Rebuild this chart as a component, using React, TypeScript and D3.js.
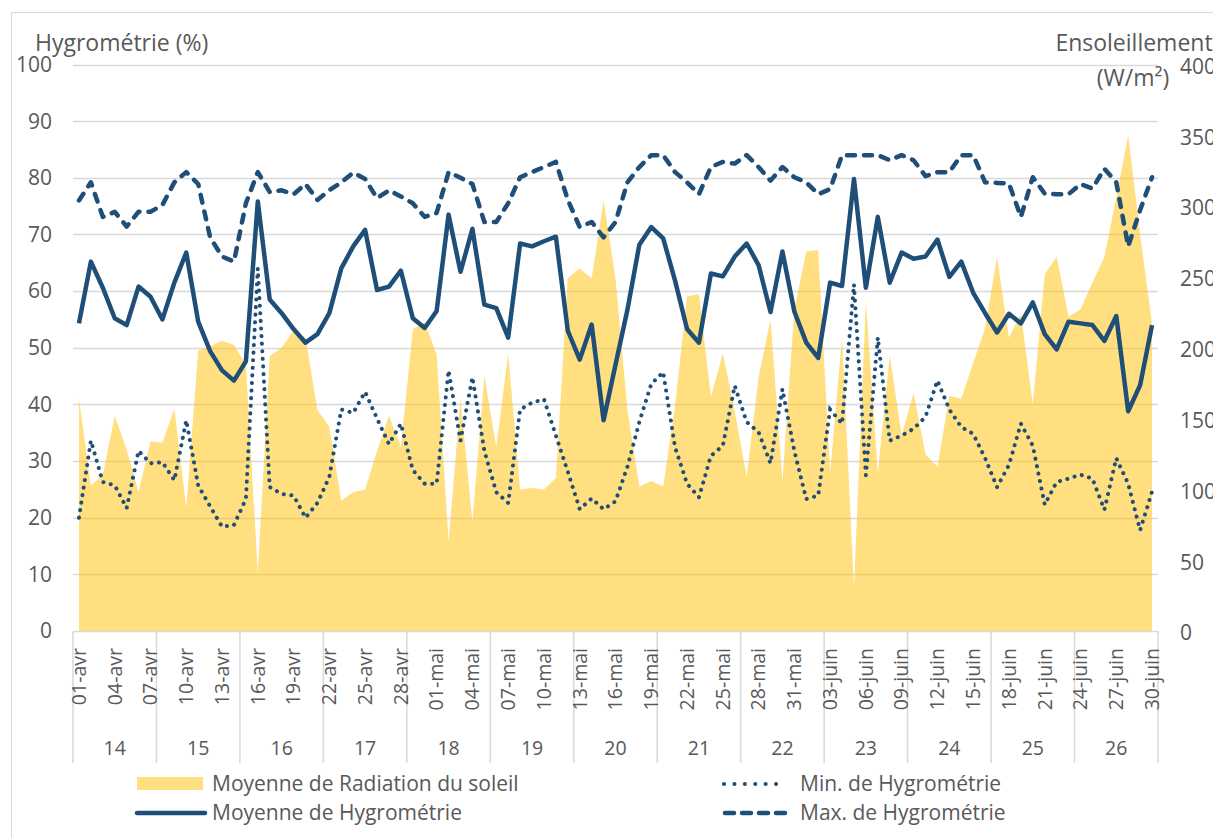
import React, { useEffect, useRef } from 'react';
import * as d3 from 'd3';

// jours du 01-avr au 30-juin
const days = [
  '01-avr', '02-avr', '03-avr', '04-avr', '05-avr', '06-avr', '07-avr', '08-avr', '09-avr', '10-avr',
  '11-avr', '12-avr', '13-avr', '14-avr', '15-avr', '16-avr', '17-avr', '18-avr', '19-avr', '20-avr',
  '21-avr', '22-avr', '23-avr', '24-avr', '25-avr', '26-avr', '27-avr', '28-avr', '29-avr', '30-avr',
  '01-mai', '02-mai', '03-mai', '04-mai', '05-mai', '06-mai', '07-mai', '08-mai', '09-mai', '10-mai',
  '11-mai', '12-mai', '13-mai', '14-mai', '15-mai', '16-mai', '17-mai', '18-mai', '19-mai', '20-mai',
  '21-mai', '22-mai', '23-mai', '24-mai', '25-mai', '26-mai', '27-mai', '28-mai', '29-mai', '30-mai',
  '31-mai', '01-juin', '02-juin', '03-juin', '04-juin', '05-juin', '06-juin', '07-juin', '08-juin', '09-juin',
  '10-juin', '11-juin', '12-juin', '13-juin', '14-juin', '15-juin', '16-juin', '17-juin', '18-juin', '19-juin',
  '20-juin', '21-juin', '22-juin', '23-juin', '24-juin', '25-juin', '26-juin', '27-juin', '28-juin', '29-juin',
  '30-juin',
];

const weeks = ['14', '15', '16', '17', '18', '19', '20', '21', '22', '23', '24', '25', '26'];
const daysPerWeek = 7;

// W/m²
const radiation = [
  164, 103, 110, 152, 128, 98, 134, 133, 157, 87,
  198, 201, 205, 202, 188, 41, 194, 200, 212, 207,
  156, 144, 92, 98, 100, 127, 152, 130, 213, 218,
  195, 63, 164, 77, 180, 130, 196, 100, 101, 100,
  108, 249, 256, 249, 304, 249, 156, 102, 106, 102,
  159, 236, 238, 165, 196, 155, 109, 179, 220, 106,
  227, 268, 269, 112, 207, 30, 233, 111, 195, 138,
  168, 125, 116, 166, 164, 189, 214, 264, 207, 224,
  160, 252, 264, 222, 227, 246, 264, 306, 350, 280,
  217,
];

const hygroMean = [
  54.3, 65.2, 60.6, 55.2, 54.0, 60.8, 59.0, 55.0, 61.5, 66.8,
  54.6, 49.4, 46.0, 44.2, 47.6, 75.8, 58.5, 56.1, 53.3, 50.9,
  52.4, 56.1, 64.0, 67.9, 70.8, 60.2, 60.8, 63.6, 55.2, 53.5,
  56.5, 73.5, 63.4, 71.0, 57.6, 57.0, 51.8, 68.4, 67.9, 68.8,
  69.6, 53.0, 47.9, 54.1, 37.2, 47.0, 56.7, 68.2, 71.3, 69.3,
  61.8, 53.3, 50.9, 63.1, 62.6, 66.1, 68.4, 64.6, 56.3, 67.0,
  56.4, 50.9, 48.2, 61.5, 60.9, 79.8, 60.6, 73.1, 61.5, 66.8,
  65.7, 66.1, 69.1, 62.5, 65.2, 59.7, 56.1, 52.7, 56.0, 54.3,
  58.0, 52.4, 49.7, 54.6, 54.3, 54.0, 51.2, 55.6, 38.8, 43.4,
  54.0,
];

const hygroMin = [
  20.0, 33.6, 26.3, 25.7, 21.7, 31.8, 29.6, 29.8, 26.6, 37.2,
  25.7, 22.0, 18.4, 18.7, 23.3, 64.0, 25.4, 24.2, 23.9, 20.0,
  22.6, 27.2, 39.1, 38.5, 42.2, 37.5, 33.0, 36.6, 28.4, 26.0,
  26.0, 46.0, 33.6, 44.8, 31.8, 24.5, 22.6, 39.1, 40.3, 40.9,
  34.5, 28.1, 21.5, 23.4, 21.5, 22.9, 29.0, 36.9, 43.6, 45.7,
  32.4, 26.0, 23.6, 30.9, 32.7, 43.3, 36.9, 35.1, 29.6, 42.7,
  31.8, 23.3, 23.9, 39.1, 36.6, 61.2, 27.5, 51.8, 33.6, 34.5,
  35.7, 37.8, 44.2, 39.1, 36.0, 34.8, 30.5, 25.4, 29.3, 36.6,
  32.7, 22.3, 26.3, 26.9, 27.6, 26.9, 21.4, 30.5, 26.0, 17.8,
  24.6,
];

const hygroMax = [
  76.0, 79.2, 73.1, 74.0, 71.4, 74.0, 74.0, 75.2, 79.2, 81.0,
  78.9, 69.5, 66.1, 65.2, 75.5, 81.0, 77.5, 77.8, 77.1, 78.9,
  76.1, 77.8, 79.2, 80.9, 79.8, 76.4, 77.8, 76.7, 75.5, 73.1,
  73.8, 81.0, 80.0, 78.9, 72.2, 72.2, 75.5, 80.1, 81.0, 81.9,
  82.8, 76.1, 71.3, 72.2, 69.5, 72.2, 79.2, 81.9, 84.0, 84.0,
  81.0, 79.2, 77.1, 81.9, 82.8, 82.5, 84.0, 81.9, 79.5, 81.9,
  80.1, 79.2, 77.1, 78.0, 84.0, 84.0, 84.0, 84.0, 83.1, 84.0,
  83.1, 80.3, 81.0, 81.0, 84.0, 84.0, 79.2, 79.1, 79.0, 73.1,
  80.1, 77.2, 77.1, 77.1, 78.9, 78.1, 81.6, 79.2, 67.9, 74.3,
  80.1,
];

const leftTicks = [0, 10, 20, 30, 40, 50, 60, 70, 80, 90, 100];
const rightTicks = [0, 50, 100, 150, 200, 250, 300, 350, 400];

const W = 1213;
const H = 838;
const FONT = '"Open Sans", sans-serif';
const TEXT = '#595959';
const GRID = '#d9d9d9';
const BLUE = '#1f4e79';

const App = () => {
  const svgRef = useRef(null);

  useEffect(() => {
    const svg = d3.select(svgRef.current);
    svg.selectAll('*').remove();

    const left = 73;
    const right = 1158;
    const top = 64.5;
    const bottom = 631;

    const x = d3.scaleBand().domain(days).range([left, right]);
    const xc = (d) => x(d) + x.bandwidth() / 2;
    const yL = d3.scaleLinear().domain([0, 100]).range([bottom, top]);
    const yR = d3.scaleLinear().domain([0, 400]).range([bottom, top]);

    // cadre
    svg.append('rect')
      .attr('x', 11.5).attr('y', 12.5)
      .attr('width', W).attr('height', H)
      .attr('fill', 'none').attr('stroke', GRID);

    // grille
    svg.append('g').selectAll('line')
      .data(leftTicks.filter((t) => t > 0))
      .join('line')
      .attr('x1', left).attr('x2', right)
      .attr('y1', (d) => Math.round(yL(d)) + 0.5)
      .attr('y2', (d) => Math.round(yL(d)) + 0.5)
      .attr('stroke', GRID).attr('stroke-width', 1.5);

    // aire radiation
    const area = d3.area()
      .x((d, i) => xc(days[i]))
      .y0(yR(0))
      .y1((d) => yR(d));
    svg.append('path')
      .datum(radiation)
      .attr('d', area)
      .attr('fill', '#ffc000')
      .attr('fill-opacity', 0.5);

    // axe horizontal + séparateurs de semaines
    svg.append('line')
      .attr('x1', left).attr('x2', right)
      .attr('y1', bottom + 0.5).attr('y2', bottom + 0.5)
      .attr('stroke', GRID).attr('stroke-width', 1.5);

    const bounds = [];
    weeks.forEach((w, i) => bounds.push(x(days[i * daysPerWeek])));
    bounds.push(right);
    svg.append('g').selectAll('line')
      .data(bounds)
      .join('line')
      .attr('x1', (d) => d).attr('x2', (d) => d)
      .attr('y1', bottom).attr('y2', 763)
      .attr('stroke', GRID).attr('stroke-width', 1.5);

    const line = d3.line().x((d, i) => xc(days[i])).y((d) => yL(d));

    svg.append('path')
      .datum(hygroMean)
      .attr('d', line)
      .attr('fill', 'none').attr('stroke', BLUE)
      .attr('stroke-width', 4.5).attr('stroke-linejoin', 'round');

    svg.append('path')
      .datum(hygroMin)
      .attr('d', line)
      .attr('fill', 'none').attr('stroke', BLUE)
      .attr('stroke-width', 4).attr('stroke-linecap', 'round')
      .attr('stroke-dasharray', '0.1 7.5');

    svg.append('path')
      .datum(hygroMax)
      .attr('d', line)
      .attr('fill', 'none').attr('stroke', BLUE)
      .attr('stroke-width', 4.5).attr('stroke-linecap', 'round')
      .attr('stroke-linejoin', 'round')
      .attr('stroke-dasharray', '8 9');

    const txt = svg.append('g').attr('font-family', FONT).attr('fill', TEXT);

    // graduations
    txt.append('g').selectAll('text')
      .data(leftTicks)
      .join('text')
      .attr('x', 52).attr('y', (d) => yL(d)).attr('dy', '0.35em')
      .attr('text-anchor', 'end').attr('font-size', 21)
      .text((d) => d);

    txt.append('g').selectAll('text')
      .data(rightTicks)
      .join('text')
      .attr('x', 1180).attr('y', (d) => yR(d) + 2).attr('dy', '0.35em')
      .attr('font-size', 21)
      .text((d) => d);

    txt.append('g').selectAll('text')
      .data(days.filter((d, i) => i % 3 === 0))
      .join('text')
      .attr('transform', (d) => `translate(${xc(d)},648) rotate(-90)`)
      .attr('dy', '0.35em')
      .attr('text-anchor', 'end').attr('font-size', 19.5)
      .text((d) => d);

    txt.append('g').selectAll('text')
      .data(weeks)
      .join('text')
      .attr('x', (d, i) => (bounds[i] + bounds[i + 1]) / 2)
      .attr('y', 755)
      .attr('text-anchor', 'middle').attr('font-size', 19.5)
      .text((d) => d);

    // titres d'axes
    txt.append('text')
      .attr('x', 35).attr('y', 43).attr('dy', '0.35em')
      .attr('font-size', 23)
      .text('Hygrométrie (%)');

    txt.append('text')
      .attr('x', 1134).attr('y', 43).attr('dy', '0.35em')
      .attr('text-anchor', 'middle').attr('font-size', 23)
      .text('Ensoleillement');
    txt.append('text')
      .attr('x', 1133).attr('y', 78).attr('dy', '0.35em')
      .attr('text-anchor', 'middle').attr('font-size', 23)
      .text('(W/m²)');

    // légende
    const leg = svg.append('g');
    leg.append('rect')
      .attr('x', 137).attr('y', 777).attr('width', 66).attr('height', 13)
      .attr('fill', '#ffc000').attr('fill-opacity', 0.5);
    leg.append('line')
      .attr('x1', 137).attr('x2', 205).attr('y1', 813).attr('y2', 813)
      .attr('stroke', BLUE).attr('stroke-width', 4.5).attr('stroke-linecap', 'round');
    leg.append('line')
      .attr('x1', 724).attr('x2', 786).attr('y1', 784).attr('y2', 784)
      .attr('stroke', BLUE).attr('stroke-width', 4).attr('stroke-linecap', 'round')
      .attr('stroke-dasharray', '0.1 10.3');
    leg.append('line')
      .attr('x1', 725).attr('x2', 789).attr('y1', 813).attr('y2', 813)
      .attr('stroke', BLUE).attr('stroke-width', 4.5).attr('stroke-linecap', 'round')
      .attr('stroke-dasharray', '9 8');

    const legText = [
      ['Moyenne de Radiation du soleil', 212, 784],
      ['Moyenne de Hygrométrie', 212, 813],
      ['Min. de Hygrométrie', 800, 784],
      ['Max. de Hygrométrie', 800, 813],
    ];
    txt.append('g').selectAll('text')
      .data(legText)
      .join('text')
      .attr('x', (d) => d[1]).attr('y', (d) => d[2]).attr('dy', '0.35em')
      .attr('font-size', 21)
      .text((d) => d[0]);
  }, []);

  return (
    <svg
      ref={svgRef}
      width={W}
      height={H}
      style={{ position: 'absolute', left: 0, top: 0, background: '#fff' }}
    />
  );
};

export default App;
